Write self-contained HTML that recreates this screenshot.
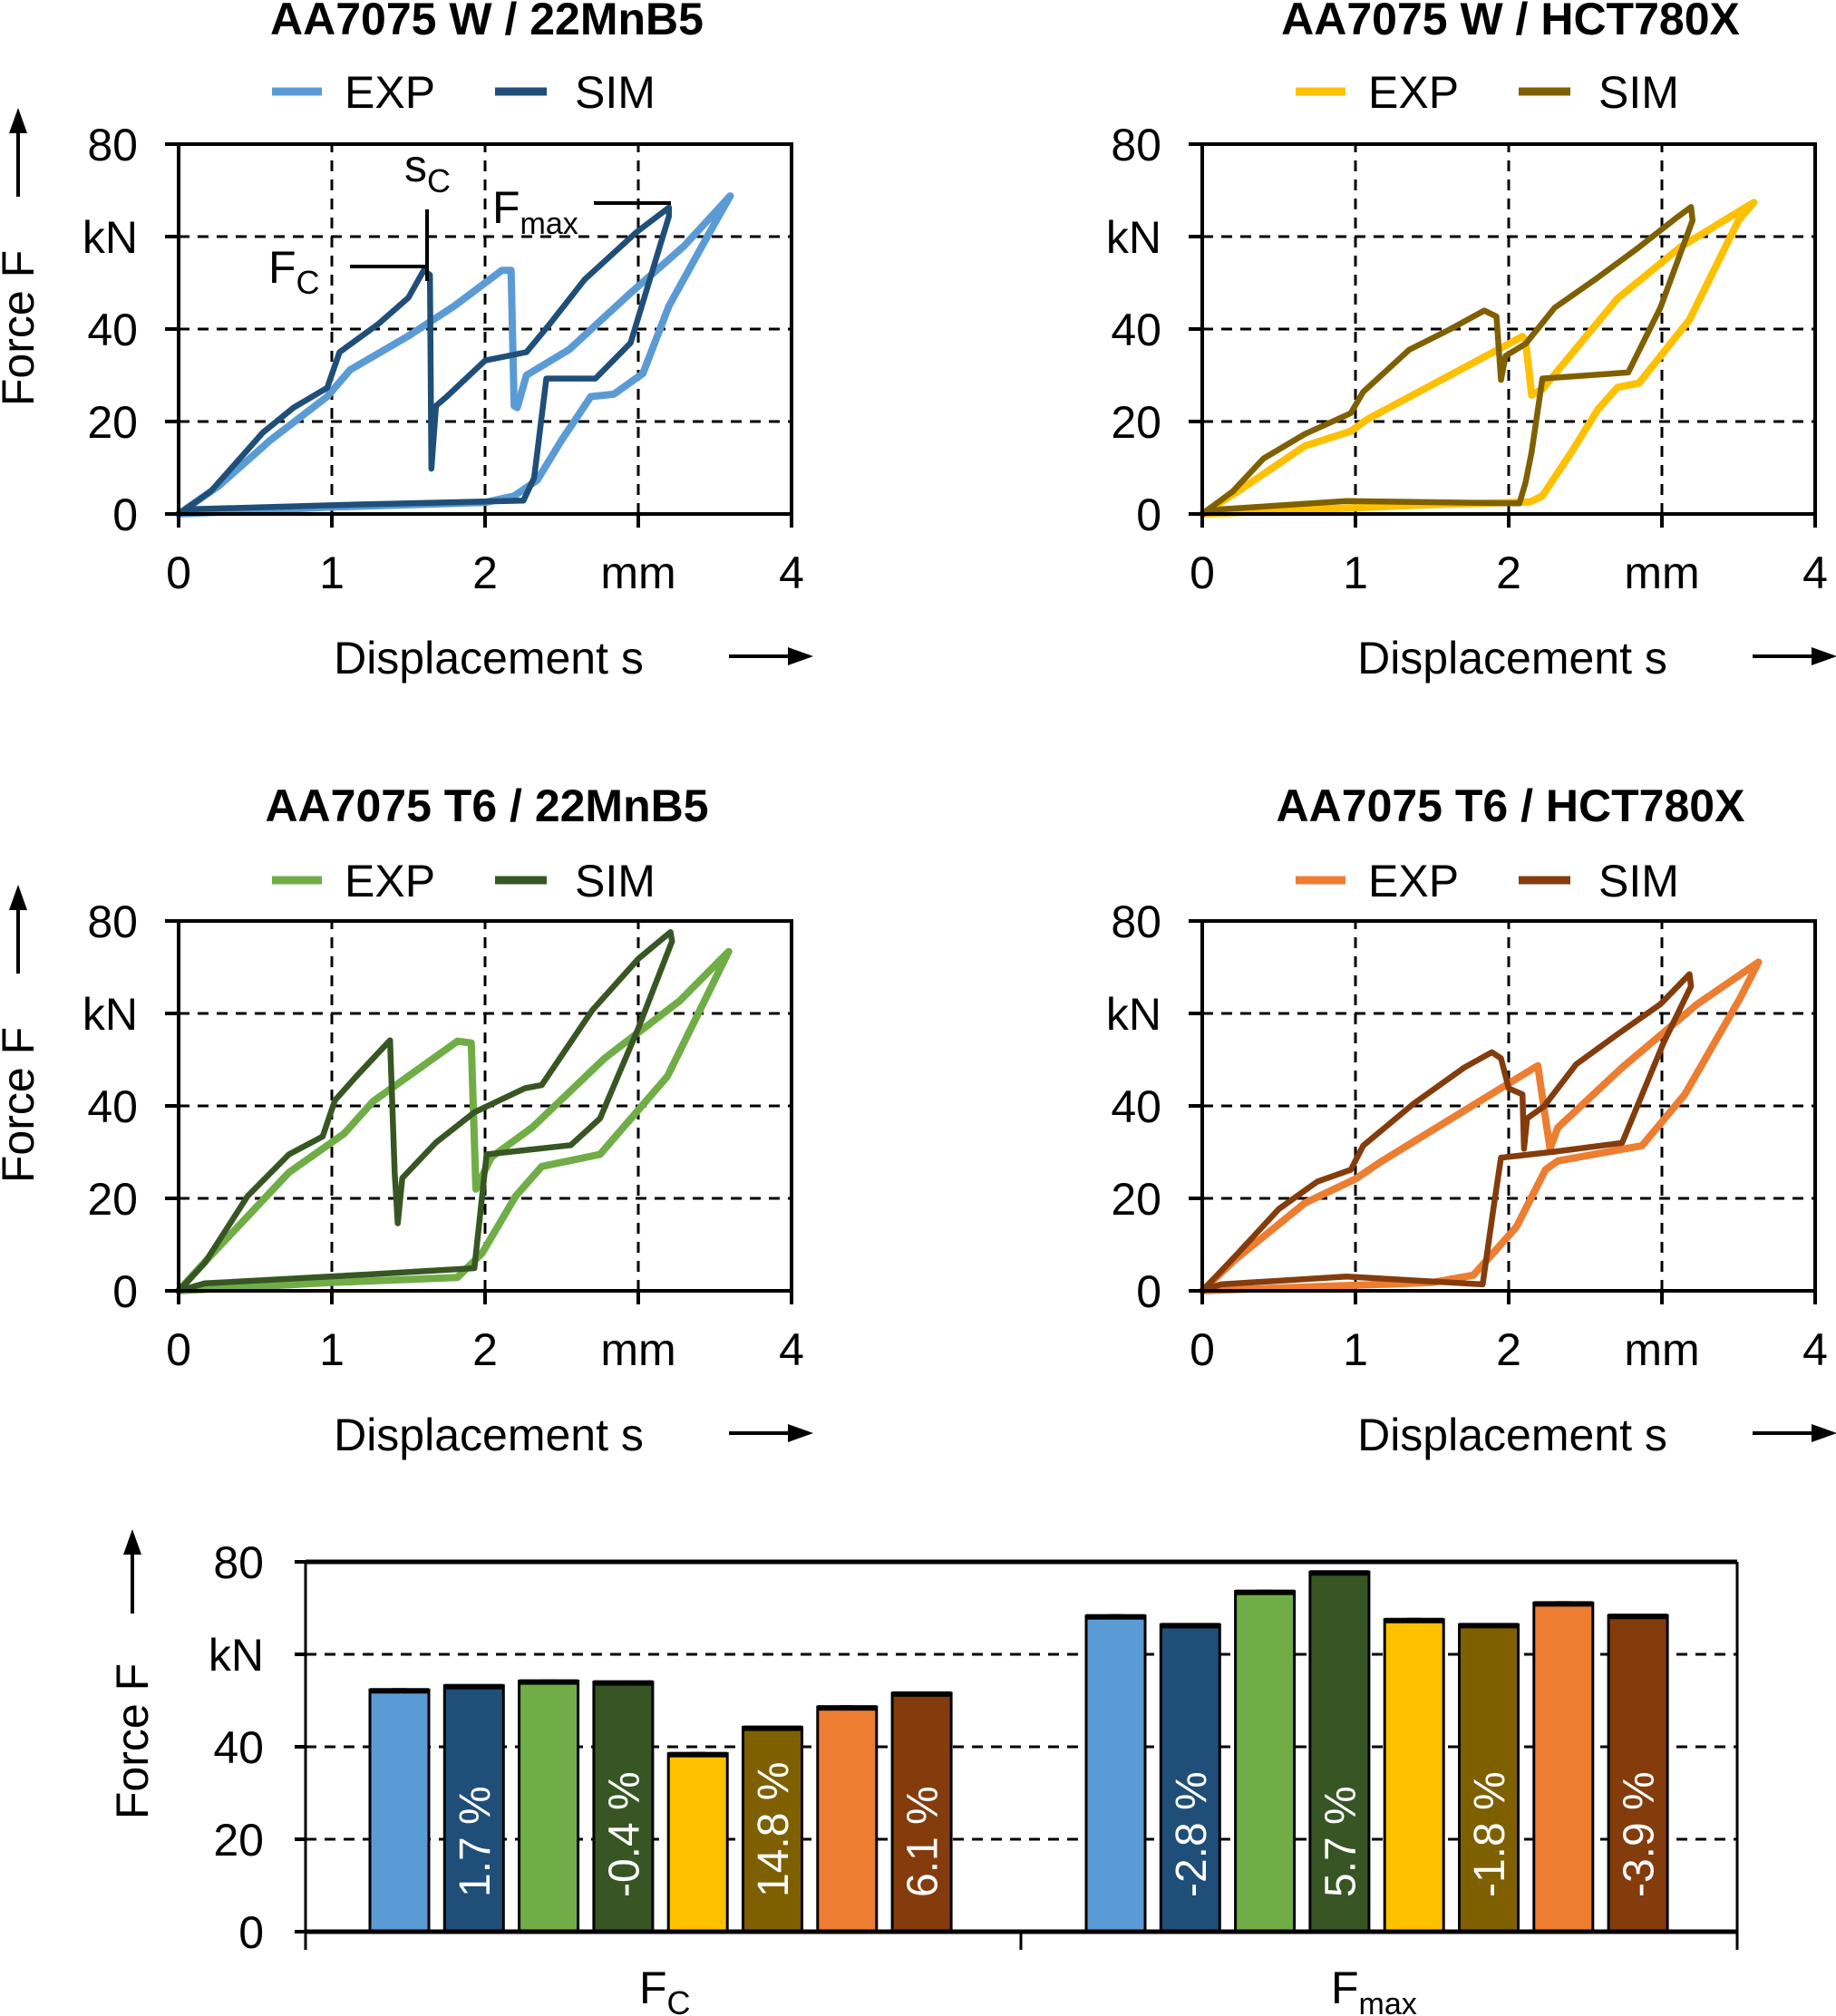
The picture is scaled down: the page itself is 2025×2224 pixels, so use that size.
<!DOCTYPE html>
<html><head><meta charset="utf-8"><style>
body{margin:0;background:#fff}
svg{display:block;font-family:"Liberation Sans",Arial,sans-serif}
</style></head><body>
<svg id="fig" width="2025" height="2224" viewBox="0 0 2025 2224" xmlns="http://www.w3.org/2000/svg"></svg>
<script>
// ---- data (mm, kN) ----
const w22Exp=[[0,0],[0.26,6],[0.6,16],[0.97,25.4],[1.12,31.2],[1.5,38.5],[1.8,45],[2.11,52.7],[2.17,52.7],[2.19,23.4],[2.21,23],[2.27,30],[2.55,35.6],[2.95,47.8],[3.3,58],[3.6,68.8],[3.45,60],[3.2,45],[3.03,30.4],[2.84,25.9],[2.69,25.4],[2.5,16],[2.34,7.3],[2.19,3.9],[2.0,2.5],[1.0,1.5],[0,0]];
const w22Sim=[[0,0],[0.21,4.9],[0.4,12],[0.55,17.6],[0.75,23],[0.97,27.3],[1.05,35],[1.3,41],[1.5,46.8],[1.6,52.7],[1.64,51.7],[1.65,9.8],[1.68,23.4],[1.75,25.4],[2.0,33.2],[2.27,35],[2.42,41],[2.65,50.7],[2.99,61],[3.2,66.3],[3.2,64.4],[2.95,37],[2.72,29.3],[2.4,29.3],[2.32,7.8],[2.25,2.9],[1.12,2],[0.06,1],[0,0]];
const wHctExp=[[0,0],[0.26,5.5],[0.67,14.7],[0.97,17.9],[1.08,20.5],[2.09,38.4],[2.11,37.5],[2.15,25.7],[2.22,27],[2.71,46.6],[3.12,57.7],[3.6,67.4],[3.5,63.5],[3.18,42],[2.85,28.3],[2.71,27.4],[2.58,22.5],[2.41,13.4],[2.22,3.9],[2.14,2.6],[1.49,2],[0,0]];
const wHctSim=[[0,0],[0.2,4.9],[0.4,12],[0.67,17.3],[0.97,21.8],[1.05,26.4],[1.35,35.5],[1.62,40],[1.84,44],[1.92,42.7],[1.95,29],[1.98,34.2],[2.11,36.8],[2.3,44.6],[2.58,51.1],[2.85,57.7],[3.1,64.2],[3.19,66.4],[3.2,63.5],[2.99,44.6],[2.78,30.6],[2.22,29.3],[2.15,13.4],[2.11,6.8],[2.07,2.3],[0.94,2.8],[0.12,1],[0,0]];
const t22Exp=[[0,0],[0.17,6.2],[0.72,25.6],[1.08,34],[1.27,41],[1.82,54],[1.91,53.6],[1.94,22],[2.04,28.9],[2.31,35.4],[2.78,50.3],[3.27,62.7],[3.59,73.4],[3.19,46.4],[2.75,29.5],[2.37,26.9],[2.2,20.5],[1.98,8.1],[1.82,2.9],[1.0,1.8],[0,0]];
const t22Sim=[[0,0],[0.17,6],[0.45,20.5],[0.72,29.5],[0.94,33.4],[1.02,41.2],[1.16,46.4],[1.38,54.2],[1.41,25.6],[1.43,14.6],[1.46,24.4],[1.68,32.1],[1.93,38.6],[2.26,43.8],[2.37,44.5],[2.7,60.7],[3.0,71.8],[3.21,77.6],[3.22,75.6],[3.0,56.8],[2.75,37.3],[2.56,31.5],[2.01,29.5],[1.93,4.9],[1.27,3.6],[0.17,1.6],[0,0]];
const tHctExp=[[0,0],[0.21,6.6],[0.67,19],[1.0,24.2],[1.17,28],[2.19,48.7],[2.24,37.3],[2.27,30.7],[2.32,35.3],[2.74,48.3],[3.23,62],[3.63,71.1],[3.51,63.3],[3.15,42.5],[2.87,31.4],[2.32,28.1],[2.24,26.2],[2.05,13.8],[1.77,3.4],[1.5,1.8],[0,0]];
const tHctSim=[[0,0],[0.21,7.3],[0.5,17.7],[0.75,23.6],[0.97,26.2],[1.05,31.4],[1.38,40.5],[1.71,48.3],[1.89,51.6],[1.95,50.3],[2.0,43.8],[2.09,42.5],[2.1,30.7],[2.12,37.3],[2.23,39.9],[2.44,49],[2.71,55.5],[2.99,62],[3.18,68.5],[3.19,65.9],[3.01,53.6],[2.74,32],[2.3,30.1],[1.95,28.8],[1.9,17.7],[1.83,1.4],[0.94,3.1],[0.12,1.4],[0,0]];
const xTicks=["0","1","2","mm","4"];
const yTicks=["0","20","40","kN","80"];
// bar chart
const barGroups=["Fc","Fmax"];
const fcValues=[52.3,53.2,54.2,54.0,38.5,44.2,48.6,51.6];
const fmaxValues=[68.3,66.4,73.6,77.8,67.5,66.4,71.1,68.4];
const fcLabels=["","1.7 %","","-0.4 %","","14.8 %","","6.1 %"];
const fmaxLabels=["","-2.8 %","","5.7 %","","-1.8 %","","-3.9 %"];
const barColors=["#5b9bd5","#1f4e79","#70ad47","#375623","#ffc000","#7f6000","#ed7d31","#843c0c"];

const NS="http://www.w3.org/2000/svg";
const svg=document.getElementById('fig');
function mk(tag,attrs,parent,text){const e=document.createElementNS(NS,tag);for(const k in attrs)e.setAttribute(k,attrs[k]);if(text!==undefined)e.textContent=text;(parent||svg).appendChild(e);return e;}

function panel(name,ox,oy,title,titleY,legY,expC,simC,expD,simD,showY){
  const g=mk('g',{});
  
  
  const W=676,H=408;
  const sx=v=>ox+v*W/4, sy=v=>oy-v*H/80;
  for(let i=1;i<4;i++){const l=mk('line',{x1:sx(i),x2:sx(i),y1:oy,y2:oy-H,stroke:'#000','stroke-width':3,'stroke-dasharray':'12 9'},g);
    }
  for(let i=1;i<4;i++){const l=mk('line',{x1:ox,x2:ox+W,y1:sy(i*20),y2:sy(i*20),stroke:'#000','stroke-width':3,'stroke-dasharray':'12 9'},g);
    }
  const line=(d,c,w,n)=>{const p=mk('polyline',{points:d.map(q=>sx(q[0]).toFixed(1)+','+sy(q[1]).toFixed(1)).join(' '),fill:'none',stroke:c,'stroke-width':w,'stroke-linejoin':'round','stroke-linecap':'round'},g);
    };
  line(expD,expC,8,'exp-curve');
  line(simD,simC,6.5,'sim-curve');
  const f=mk('rect',{x:ox,y:oy-H,width:W,height:H,fill:'none',stroke:'#000','stroke-width':4},g);
  
  for(let i=0;i<5;i++){
    mk('line',{x1:ox-15,x2:ox,y1:sy(i*20),y2:sy(i*20),stroke:'#000','stroke-width':4},g);
    mk('line',{x1:sx(i),x2:sx(i),y1:oy,y2:oy+15,stroke:'#000','stroke-width':4},g);
    const t=mk('text',{x:ox-45,y:sy(i*20)+18,'font-size':50,'text-anchor':'end'},g,yTicks[i]);
    
    const u=mk('text',{x:sx(i),y:oy+82,'font-size':50,'text-anchor':'middle'},g,xTicks[i]);
    
  }
  const tt=mk('text',{x:ox+340,y:titleY,'font-size':50,'font-weight':'bold','text-anchor':'middle'},g,title);
  
  mk('line',{x1:ox+103,x2:ox+158,y1:legY,y2:legY,stroke:expC,'stroke-width':9},g);
  const le=mk('text',{x:ox+183,y:legY+18,'font-size':50},g,'EXP');
  
  mk('line',{x1:ox+349,x2:ox+406,y1:legY,y2:legY,stroke:simC,'stroke-width':9},g);
  const ls=mk('text',{x:ox+437,y:legY+18,'font-size':50},g,'SIM');
  
  if(showY){
    const yl=mk('text',{x:0,y:0,'font-size':50,'text-anchor':'middle',transform:`translate(${ox-160},${oy-205}) rotate(-90)`},g,'Force F');
    
    mk('line',{x1:ox-177,x2:ox-177,y1:oy-350,y2:oy-440,stroke:'#000','stroke-width':4},g);
    mk('polygon',{points:`${ox-187},${oy-420} ${ox-167},${oy-420} ${ox-177},${oy-448}`,fill:'#000'},g);
  }
  const xl=mk('text',{x:ox+342,y:oy+176,'font-size':50,'text-anchor':'middle'},g,'Displacement s');
  
  mk('line',{x1:ox+607,x2:ox+680,y1:oy+157,y2:oy+157,stroke:'#000','stroke-width':4},g);
  mk('polygon',{points:`${ox+672},${oy+147} ${ox+672},${oy+167} ${ox+700},${oy+157}`,fill:'#000'},g);
  return g;
}
panel('panel-w-22mnb5',197,567,'AA7075 W / 22MnB5',38,101,'#5b9bd5','#1f4e79',w22Exp,w22Sim,true);
panel('panel-w-hct780x',1326,567,'AA7075 W / HCT780X',38,101,'#ffc000','#7f6000',wHctExp,wHctSim,false);
panel('panel-t6-22mnb5',197,1424,'AA7075 T6 / 22MnB5',906,971,'#70ad47','#375623',t22Exp,t22Sim,true);
panel('panel-t6-hct780x',1326,1424,'AA7075 T6 / HCT780X',906,971,'#ed7d31','#843c0c',tHctExp,tHctSim,false);

const an=mk('g',{});

mk('line',{x1:386,x2:471,y1:294,y2:294,stroke:'#000','stroke-width':4},an);
mk('line',{x1:471,x2:471,y1:231,y2:310,stroke:'#000','stroke-width':4},an);
mk('line',{x1:655,x2:740,y1:224,y2:224,stroke:'#000','stroke-width':4},an);
const fc=mk('text',{x:296,y:312,'font-size':50},an);fc.innerHTML='F<tspan font-size="36" dy="12">C</tspan>';
const scT=mk('text',{x:446,y:200,'font-size':50},an);scT.innerHTML='s<tspan font-size="36" dy="12">C</tspan>';
const fm=mk('text',{x:543,y:246,'font-size':50},an);fm.innerHTML='F<tspan font-size="34" dy="12">max</tspan>';

// ---- bar chart ----
const bc=mk('g',{});

const BL=337,BR=1916,B0=2131,BH=408;
const by=v=>B0-v*BH/80;
for(let i=1;i<4;i++){const l=mk('line',{x1:BL,x2:BR,y1:by(i*20),y2:by(i*20),stroke:'#000','stroke-width':3,'stroke-dasharray':'12 9'},bc);
  }
const groupStart=[408,1198];
[fcValues,fmaxValues].forEach((vals,gi)=>{
  const labs=gi===0?fcLabels:fmaxLabels;
  vals.forEach((v,i)=>{
    const x=groupStart[gi]+i*82.3,w=65;
    const r=mk('rect',{x:x,y:by(v),width:w,height:B0-by(v),fill:barColors[i],stroke:'#000','stroke-width':3},bc);
    
    
    mk('rect',{x:x,y:by(v)-2,width:w,height:6,fill:'#000'},bc);
    if(i%2===0){mk('line',{x1:x+w/2-8,x2:x+w/2+8,y1:by(v),y2:by(v),stroke:'#000','stroke-width':4},bc);}
    if(labs[i]){
      const cx=x+w/2+17;
      const t=mk('text',{x:0,y:0,'font-size':48,fill:'#fff',transform:`translate(${cx},2093) rotate(-90)`},bc,labs[i]);
      
    }
  });
});
mk('line',{x1:BL,x2:BR,y1:by(80),y2:by(80),stroke:'#000','stroke-width':5},bc);
mk('line',{x1:BL,x2:BR,y1:B0,y2:B0,stroke:'#000','stroke-width':5},bc);
mk('line',{x1:BL,x2:BL,y1:by(80),y2:B0+20,stroke:'#000','stroke-width':3},bc);
mk('line',{x1:BR,x2:BR,y1:by(80),y2:B0+20,stroke:'#000','stroke-width':3},bc);
mk('line',{x1:1126,x2:1126,y1:B0,y2:B0+20,stroke:'#000','stroke-width':3},bc);
for(let i=0;i<5;i++){
  mk('line',{x1:BL-12,x2:BL,y1:by(i*20),y2:by(i*20),stroke:'#000','stroke-width':4},bc);
  const t=mk('text',{x:291,y:by(i*20)+18,'font-size':50,'text-anchor':'end'},bc,yTicks[i]);
  
}
const byl=mk('text',{x:0,y:0,'font-size':50,'text-anchor':'middle',transform:'translate(163,1921) rotate(-90)'},bc,'Force F');

mk('line',{x1:146,x2:146,y1:1780,y2:1700,stroke:'#000','stroke-width':4},bc);
mk('polygon',{points:'136,1715 156,1715 146,1687',fill:'#000'},bc);
const g1=mk('text',{x:705,y:2210,'font-size':50},bc);g1.innerHTML='F<tspan font-size="36" dy="12">C</tspan>';

const g2=mk('text',{x:1468,y:2210,'font-size':50},bc);g2.innerHTML='F<tspan font-size="34" dy="12">max</tspan>';

</script>
</body></html>
